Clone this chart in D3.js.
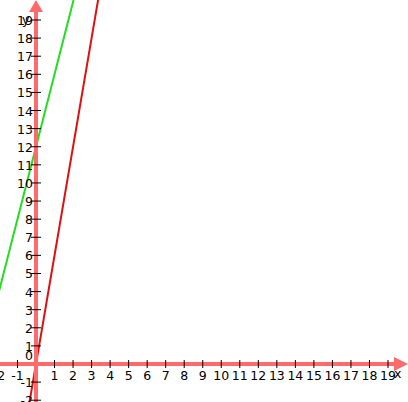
<!DOCTYPE html><html><head><script src="https://cdn.jsdelivr.net/npm/d3@7"></script>
<style>body{margin:0;background:#fff}</style></head><body><svg id="c" width="408" height="402"></svg>
<script>
const xTicks=[-2,-1,1,2,3,4,5,6,7,8,9,10,11,12,13,14,15,16,17,18,19];
const yTicks=[-2,-1,0,1,2,3,4,5,6,7,8,9,10,11,12,13,14,15,16,17,18,19];
const greenLine={slope:4,intercept:12};
const redLine={slope:6,intercept:0};
const svg=d3.select("#c");
const x=d3.scaleLinear().domain([0,19]).range([36,388]);
const y=d3.scaleLinear().domain([0,19]).range([364,20]);
const axisCol="#ff6b6b";
[[greenLine,"#22dd22"],[redLine,"#dd1111"]].forEach(([l,c])=>{
  const xs=[-2.2,5];
  svg.append("line").attr("x1",x(xs[0])).attr("y1",y(l.slope*xs[0]+l.intercept))
   .attr("x2",x(xs[1])).attr("y2",y(l.slope*xs[1]+l.intercept)).attr("stroke",c).attr("stroke-width",2);
});
svg.append("line").attr("x1",0).attr("x2",396).attr("y1",y(0)).attr("y2",y(0)).attr("stroke",axisCol).attr("stroke-width",4);
svg.append("path").attr("d",`M${408},${y(0)} L394,${y(0)-7} L394,${y(0)+7}Z`).attr("fill",axisCol);
svg.append("line").attr("x1",x(0)).attr("x2",x(0)).attr("y1",402).attr("y2",10).attr("stroke",axisCol).attr("stroke-width",4);
svg.append("path").attr("d",`M${x(0)},0 L${x(0)-7},12 L${x(0)+7},12Z`).attr("fill",axisCol);
const f="12.5px 'DejaVu Sans'";
xTicks.forEach(t=>{
  svg.append("line").attr("x1",x(t)).attr("x2",x(t)).attr("y1",y(0)-4).attr("y2",y(0)+4).attr("stroke","#000");
  svg.append("text").attr("x",x(t)).attr("y",y(0)+16).attr("text-anchor","middle").style("font",f).text(t);
});
yTicks.forEach(t=>{
  if(t!==0) svg.append("line").attr("x1",x(0)-5).attr("x2",x(0)+5).attr("y1",y(t)).attr("y2",y(t)).attr("stroke","#000");
  svg.append("text").attr("x",x(0)-3).attr("y",y(t)-(t===0?4:-5)).attr("text-anchor","end").style("font",f).text(t);
});
svg.append("text").attr("x",394).attr("y",y(0)+14).style("font",f).text("x");
svg.append("text").attr("x",22).attr("y",y(19)+4).style("font",f).text("y");
</script></body></html>
